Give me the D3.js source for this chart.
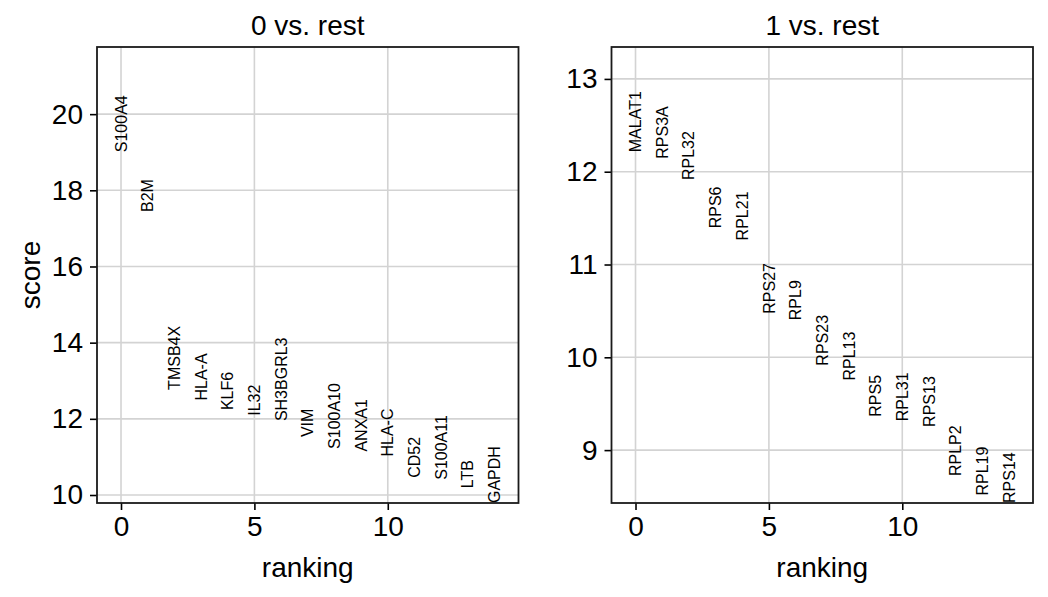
<!DOCTYPE html>
<html>
<head>
<meta charset="utf-8">
<script src="https://cdn.jsdelivr.net/npm/d3@7"></script>
<style>
  body { margin: 0; background: #fff; }
  svg { display: block; font-family: Arial, "Liberation Sans", sans-serif; }
</style>
</head>
<body>
<div id="chart"></div>
<script>
const groups = ["0", "1"];

const genes0 = ["S100A4", "B2M", "TMSB4X", "HLA-A", "KLF6", "IL32", "SH3BGRL3", "VIM",
    "S100A10", "ANXA1", "HLA-C", "CD52", "S100A11", "LTB", "GAPDH"];
const scores0 = [19.00, 17.43, 12.76, 12.48, 12.23, 12.08, 11.94, 11.52,
    11.21, 11.14, 11.01, 10.45, 10.40, 10.18, 9.79];

const genes1 = ["MALAT1", "RPS3A", "RPL32", "RPS6", "RPL21", "RPS27", "RPL9", "RPS23",
    "RPL13", "RPS5", "RPL31", "RPS13", "RPLP2", "RPL19", "RPS14"];
const scores1 = [12.21, 12.14, 11.91, 11.39, 11.26, 10.47, 10.40, 9.91,
    9.75, 9.36, 9.31, 9.25, 8.72, 8.51, 8.43];

const xTicks = [0, 5, 10];
const yTicks0 = [10, 12, 14, 16, 18, 20];
const yTicks1 = [9, 10, 11, 12, 13];

const width = 1048, height = 597;
const bigFont = 28;
const svg = d3.select("#chart").append("svg")
    .attr("width", width)
    .attr("height", height);

const panels = [
    {title: groups[0] + " vs. rest", genes: genes0, scores: scores0, yTicks: yTicks0, left: 97, right: 518.5, ylabel: true},
    {title: groups[1] + " vs. rest", genes: genes1, scores: scores1, yTicks: yTicks1, left: 611.5, right: 1033, ylabel: false}
];
const plotTop = 47, plotBottom = 503;

panels.forEach(p => {
    const n = p.genes.length;
    // same limits scanpy uses: x from -0.9 to n-0.1, y padded 30% above the max
    const ymin = d3.min(p.scores), ymax0 = d3.max(p.scores);
    const ymax = ymax0 + 0.3 * (ymax0 - ymin);

    const x = d3.scaleLinear().domain([-0.9, n - 0.1]).range([p.left, p.right]);
    const y = d3.scaleLinear().domain([ymin, ymax]).range([plotBottom, plotTop]);

    const g = svg.append("g");

    // grid
    g.append("g").selectAll("line").data(xTicks).enter().append("line")
        .attr("x1", d => x(d)).attr("x2", d => x(d))
        .attr("y1", plotTop).attr("y2", plotBottom)
        .attr("stroke", "#d3d3d3").attr("stroke-width", 1.6);
    g.append("g").selectAll("line").data(p.yTicks).enter().append("line")
        .attr("x1", p.left).attr("x2", p.right)
        .attr("y1", d => y(d)).attr("y2", d => y(d))
        .attr("stroke", "#d3d3d3").attr("stroke-width", 1.6);

    // gene names, vertical, bottom of text at the score
    g.append("g").selectAll("text").data(p.genes).enter().append("text")
        .attr("transform", (d, i) => "translate(" + x(i) + "," + y(p.scores[i]) + ") rotate(-90)")
        .attr("text-anchor", "start")
        .attr("dy", "0.35em")
        .attr("font-size", 16)
        .attr("fill", "#000")
        .text(d => d);

    // axes
    const xAxis = d3.axisBottom(x).tickValues(xTicks).tickSize(7).tickPadding(6)
        .tickFormat(d3.format("d"));
    const gx = g.append("g").attr("transform", "translate(0," + plotBottom + ")").call(xAxis);
    gx.select(".domain").remove();
    gx.selectAll(".tick line").attr("stroke", "#000").attr("stroke-width", 1.6);
    gx.selectAll(".tick text").attr("font-size", bigFont).attr("fill", "#000");

    const yAxis = d3.axisLeft(y).tickValues(p.yTicks).tickSize(7).tickPadding(7)
        .tickFormat(d3.format("d"));
    const gy = g.append("g").attr("transform", "translate(" + p.left + ",0)").call(yAxis);
    gy.select(".domain").remove();
    gy.selectAll(".tick line").attr("stroke", "#000").attr("stroke-width", 1.6);
    gy.selectAll(".tick text").attr("font-size", bigFont).attr("fill", "#000");

    // frame
    g.append("rect")
        .attr("x", p.left).attr("y", plotTop)
        .attr("width", p.right - p.left).attr("height", plotBottom - plotTop)
        .attr("fill", "none").attr("stroke", "#1a1a1a").attr("stroke-width", 1.8);

    // title
    g.append("text")
        .attr("x", (p.left + p.right) / 2).attr("y", 35)
        .attr("text-anchor", "middle").attr("font-size", bigFont)
        .text(p.title);

    // x label
    g.append("text")
        .attr("x", (p.left + p.right) / 2).attr("y", 577)
        .attr("text-anchor", "middle").attr("font-size", bigFont)
        .text("ranking");

    if (p.ylabel) {
        g.append("text")
            .attr("transform", "translate(40," + (plotTop + plotBottom) / 2 + ") rotate(-90)")
            .attr("text-anchor", "middle").attr("font-size", bigFont)
            .text("score");
    }
});
</script>
</body>
</html>
